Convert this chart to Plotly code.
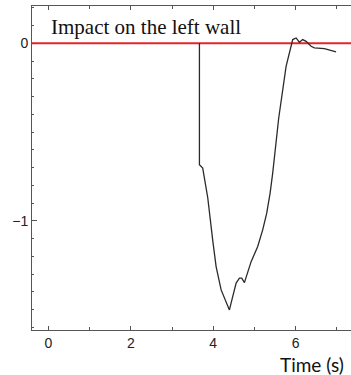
import plotly.graph_objects as go

# Horizontal displacement of the body over time (s)
time_s = [3.665, 3.665, 3.745, 3.786, 3.867, 3.988, 4.070, 4.192, 4.313, 4.393,
          4.473, 4.556, 4.636, 4.692, 4.757, 4.837, 4.920, 5.080, 5.201, 5.299,
          5.381, 5.444, 5.590, 5.769, 5.930, 6.012, 6.092, 6.172, 6.255, 6.376,
          6.456, 6.699, 6.983]
position = [0.000, -0.684, -0.703, -0.769, -0.870, -1.110, -1.258, -1.389, -1.464, -1.502,
            -1.427, -1.351, -1.323, -1.323, -1.348, -1.295, -1.230, -1.145, -1.051, -0.957,
            -0.844, -0.731, -0.421, -0.130, 0.021, 0.030, 0.006, 0.021, 0.011, -0.017,
            -0.026, -0.030, -0.049]

wall_level = 0.0
x_range = [-0.40, 7.345]
y_range = [-1.615, 0.21]
x_tick_vals = [0, 2, 4, 6]
y_tick_vals = [0, -1]
y_tick_text = ["0", "\u22121"]
title_text = "Impact on the left wall"
x_label = "Time (s)"

fig = go.Figure()

# Left wall reference line
fig.add_trace(go.Scatter(
    x=x_range, y=[wall_level, wall_level], mode="lines",
    line=dict(color="#e3262b", width=2), hoverinfo="skip", showlegend=False,
))

# Trajectory
fig.add_trace(go.Scatter(
    x=time_s, y=position, mode="lines",
    line=dict(color="#2b2b2b", width=1.3),
    showlegend=False,
))

axis_common = dict(
    showline=True, linecolor="#555555", linewidth=1,
    ticks="inside", tickcolor="#555555", showgrid=False, zeroline=False,
    tickfont=dict(family="Liberation Sans, Arial, sans-serif", size=14, color="#222222"),
)

fig.update_xaxes(
    range=x_range, tickvals=x_tick_vals, ticklen=4, tickwidth=1, mirror="ticks",
    minor=dict(dtick=1, tick0=1, ticks="inside", ticklen=3, tickcolor="#555555"),
    **axis_common,
)
fig.update_yaxes(
    range=y_range, tickvals=y_tick_vals, ticktext=y_tick_text, ticklen=5, tickwidth=1,
    mirror=False,
    minor=dict(dtick=0.1, tick0=0, ticks="inside", ticklen=2, tickcolor="#555555"),
    **axis_common,
)

fig.add_annotation(
    x=0.02, y=0.094, xref="x", yref="y", text=title_text, showarrow=False,
    xanchor="left", yanchor="middle",
    font=dict(family="Liberation Serif, Times New Roman, serif", size=21, color="#111111"),
)
fig.add_annotation(
    x=0.981, y=-0.0665, xref="paper", yref="paper", text=x_label, showarrow=False,
    xanchor="right", yanchor="top", borderpad=0,
    font=dict(family="Lato, sans-serif", size=19, color="#111111"),
)

fig.update_layout(
    width=351, height=375,
    margin=dict(l=32, r=0, t=6, b=45),
    paper_bgcolor="white", plot_bgcolor="white",
)

fig.write_html("out.html")
